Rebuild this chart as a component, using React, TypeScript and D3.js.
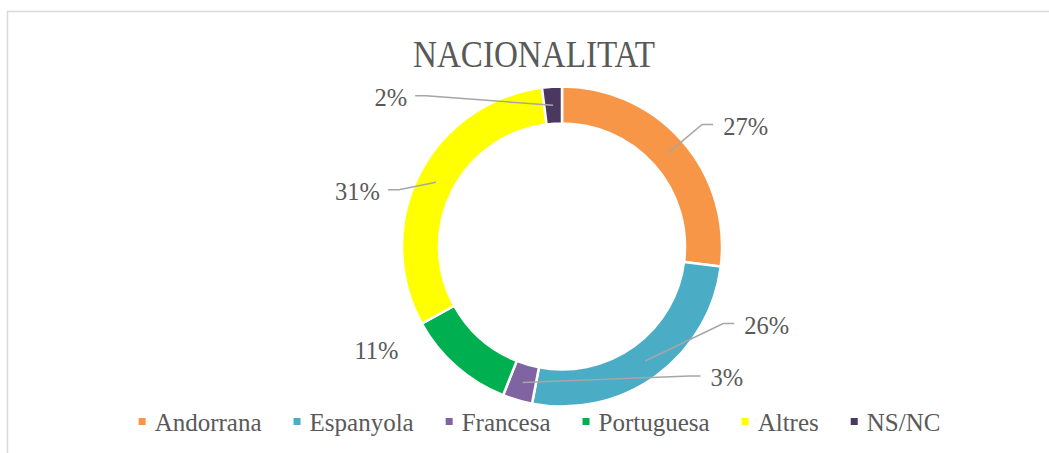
import React, { useRef, useEffect } from 'react';
import * as d3 from 'd3';

// nationality share, percent
const categories = ['Andorrana', 'Espanyola', 'Francesa', 'Portuguesa', 'Altres', 'NS/NC'];
const values = [27, 26, 3, 11, 31, 2];
const colors = ['#F79646', '#4BACC6', '#8064A2', '#00B050', '#FFFF00', '#4B3861'];

// label placement relative to each slice centroid (layout only)
const labelOffsets: [number, number][] = [[55, -27], [99, -36], [188, -5], [-70, -2], [-56, 9], [-146, -8]];
const showLeader = [true, true, true, false, true, true];

const W = 1049;
const H = 453;

const App: React.FC = () => {
    const svgRef = useRef<SVGSVGElement | null>(null);

    useEffect(() => {
        if (!svgRef.current) return;
        const svg = d3.select(svgRef.current);
        svg.selectAll('*').remove();

        const font = '"Liberation Serif", serif';
        const textColor = '#595959';

        // chart frame
        svg.append('rect')
            .attr('x', 7.5).attr('y', 11.5)
            .attr('width', 1100).attr('height', 500)
            .attr('fill', '#fff')
            .attr('stroke', '#d9d9d9')
            .attr('stroke-width', 1.5);

        svg.append('text')
            .attr('x', 534).attr('y', 67)
            .attr('text-anchor', 'middle')
            .attr('font-family', font)
            .attr('font-size', 37)
            .attr('fill', textColor)
            .attr('textLength', 242)
            .attr('lengthAdjust', 'spacingAndGlyphs')
            .text('NACIONALITAT');

        const cx = 562, cy = 246.5;
        const outer = 160, inner = 123;
        const total = d3.sum(values);

        const pie = d3.pie<number>().sort(null).value(d => d);
        const arcs = pie(values);
        const arc = d3.arc<d3.PieArcDatum<number>>().innerRadius(inner).outerRadius(outer);

        const g = svg.append('g').attr('transform', `translate(${cx},${cy})`);

        g.selectAll('path.slice')
            .data(arcs)
            .enter()
            .append('path')
            .attr('class', 'slice')
            .attr('d', arc)
            .attr('fill', (_, i) => colors[i])
            .attr('stroke', '#fff')
            .attr('stroke-width', 2.5);

        const pct = d3.format('.0%');

        arcs.forEach((a, i) => {
            const [mx, my] = arc.centroid(a);
            const [ox, oy] = labelOffsets[i];
            const lx = mx + ox, ly = my + oy;
            const right = ox > 0;

            if (showLeader[i]) {
                const p1x = right ? lx - 10 : lx + 8;
                const p2x = right ? p1x - 11 : p1x + 11;
                const yy = ly - 1.5;
                g.append('path')
                    .attr('d', d3.line()([[p1x, yy], [p2x, yy], [mx, my]]))
                    .attr('fill', 'none')
                    .attr('stroke', '#a6a6a6')
                    .attr('stroke-width', 1.5);
            }

            g.append('text')
                .attr('x', lx).attr('y', ly)
                .attr('dy', '0.35em')
                .attr('text-anchor', right ? 'start' : 'end')
                .attr('font-family', font)
                .attr('font-size', 24.5)
                .attr('fill', textColor)
                .text(pct(values[i] / total));
        });

        // legend, centered
        const legend = svg.append('g');
        const items = legend.selectAll('g.item')
            .data(categories)
            .enter()
            .append('g')
            .attr('class', 'item');

        items.append('rect')
            .attr('width', 7).attr('height', 7)
            .attr('y', 418)
            .attr('fill', (_, i) => colors[i]);

        const texts = items.append('text')
            .attr('y', 430.5)
            .attr('font-family', font)
            .attr('font-size', 25)
            .attr('fill', textColor)
            .text(d => d);

        const widths: number[] = [];
        texts.each(function () { widths.push((this as SVGTextElement).getComputedTextLength()); });
        const gap = 32, markerGap = 16;
        const totalW = d3.sum(widths) + widths.length * markerGap + (widths.length - 1) * gap;
        let x = 539.5 - totalW / 2;
        items.each(function (_, i) {
            const it = d3.select(this);
            it.select('rect').attr('x', x);
            it.select('text').attr('x', x + markerGap);
            x += markerGap + widths[i] + gap;
        });
    }, []);

    return (
        <svg
            ref={svgRef}
            width={W}
            height={H}
            style={{ position: 'absolute', left: 0, top: 0, display: 'block', background: '#fff' }}
        />
    );
};

export default App;
